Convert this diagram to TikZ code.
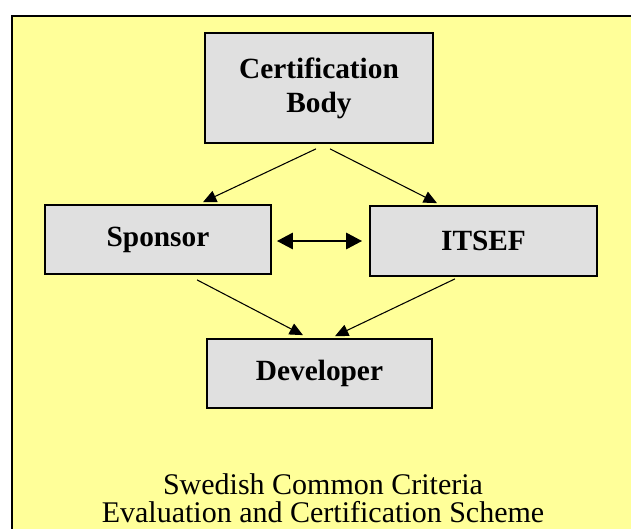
\documentclass[tikz,border=0pt]{standalone}
\usepackage{fontspec}
\setmainfont{Liberation Serif}
\usetikzlibrary{arrows.meta,calc}
\definecolor{bgyellow}{HTML}{FFFF99}
\definecolor{boxgray}{HTML}{E0E0E0}
\begin{document}
\begin{tikzpicture}[x=0.75pt,y=-0.75pt,
  entity/.style={draw=black,line width=1.3pt,fill=boxgray,rectangle,inner sep=0pt,
    font=\bfseries\fontsize{22}{25.5}\selectfont,align=center},
  flow/.style={line width=0.8pt,-{Triangle[length=10pt,width=9pt]}},
  both/.style={line width=2.2pt,{Triangle[length=12pt,width=12pt]}-{Triangle[length=12pt,width=12pt]}}]
\useasboundingbox (0,0) rectangle (631,528);
\clip (0,0) rectangle (631,528);
\draw[fill=bgyellow,line width=1.6pt] (12,16) rectangle (650,550);
\node[entity,minimum width=228*0.75pt,minimum height=110*0.75pt] (cert) at (319,88) {Certification\\Body};
\node[entity,minimum width=226*0.75pt,minimum height=69*0.75pt] (sponsor) at (158,239.5) {Sponsor};
\node[entity,minimum width=227*0.75pt,minimum height=70*0.75pt] (itsef) at (483.5,241) {ITSEF};
\node[entity,minimum width=225*0.75pt,minimum height=69*0.75pt] (dev) at (319.5,373.5) {Developer};
\draw[flow] ($(cert.south)+(-3,5)$) -- ($(sponsor.north)+(45,-2)$);
\draw[flow] ($(cert.south)+(11,5)$) -- ($(itsef.north)+(-46.5,-2)$);
\draw[flow] ($(sponsor.south)+(39,5)$) -- ($(dev.north)+(-16.5,-3)$);
\draw[flow] ($(itsef.south)+(-28.5,2)$) -- ($(dev.north)+(15.5,-2)$);
\draw[both] ($(sponsor.east)+(5,1.5)$) -- ($(itsef.west)+(-7,0)$);
\node[font=\fontsize{22.5}{21}\selectfont,align=center,inner sep=0pt] (title) at (323,498) {Swedish Common Criteria\\Evaluation and Certification Scheme};
\end{tikzpicture}
\end{document}
